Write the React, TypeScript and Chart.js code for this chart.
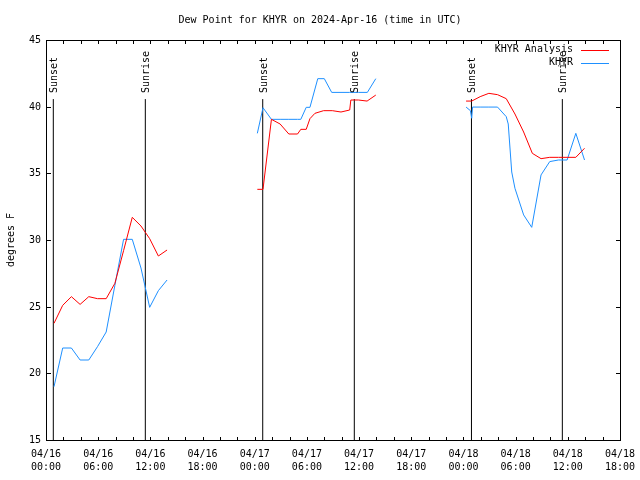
import { useEffect, useRef } from "react";
import { Chart, registerables } from "chart.js";

Chart.register(...registerables);

// ---- text ----
const titleText = "Dew Point for KHYR on 2024-Apr-16 (time in UTC)";
const yAxisTitle = "degrees F";
const seriesNames = ["KHYR Analysis", "KHYR"];
const seriesColors = ["#ff0000", "#1e90ff"];
const FONT = "10px 'DejaVu Sans Mono', 'Liberation Mono', monospace";

// ---- data (hours since 2024-04-16 00:00 UTC, dew point in degrees F) ----
const analysisHours1 = [0.92, 1.92, 2.92, 3.92, 4.92, 5.92, 6.92, 7.92, 8.92, 9.92, 10.92, 11.92, 12.92, 13.92];
const analysisDew1 = [23.75, 25.1, 25.75, 25.17, 25.75, 25.6, 25.6, 26.75, 29.2, 31.7, 31.05, 30.1, 28.8, 29.25];
const analysisHours2 = [24.3, 24.95, 25.92, 26.92, 27.92, 28.92, 29.3, 29.92, 30.35, 30.92, 31.92, 32.92, 33.92, 34.92, 35.05, 35.92, 36.92, 37.92];
const analysisDew2 = [33.8, 33.8, 39.05, 38.7, 37.95, 37.95, 38.3, 38.3, 39.1, 39.5, 39.7, 39.7, 39.6, 39.75, 40.5, 40.5, 40.42, 40.87];
const analysisHours3 = [48.3, 48.95, 49.92, 50.92, 51.92, 52.92, 53.92, 54.92, 55.92, 56.92, 57.92, 58.92, 59.92, 60.92, 61.92];
const analysisDew3 = [40.42, 40.42, 40.75, 41.0, 40.9, 40.6, 39.45, 38.1, 36.5, 36.1, 36.2, 36.2, 36.2, 36.2, 36.88];

const observedHours1 = [0.92, 1.92, 2.92, 3.92, 4.92, 5.92, 6.92, 7.92, 8.92, 9.92, 10.92, 11.92, 12.92, 13.92];
const observedDew1 = [19.0, 21.9, 21.9, 21.0, 21.0, 22.0, 23.1, 26.6, 30.05, 30.05, 27.9, 24.95, 26.2, 27.0];
const observedHours2 = [24.3, 24.95, 25.92, 26.92, 27.92, 28.92, 29.3, 29.92, 30.35, 31.25, 32.0, 32.85, 33.92, 34.92, 35.92, 36.95, 37.92];
const observedDew2 = [38.0, 39.92, 39.05, 39.05, 39.05, 39.05, 39.05, 39.95, 39.95, 42.1, 42.1, 41.07, 41.07, 41.07, 41.07, 41.07, 42.1];
const observedHours3 = [48.3, 48.8, 48.95, 49.05, 49.92, 50.92, 51.92, 52.92, 53.15, 53.55, 53.92, 54.92, 55.85, 56.92, 57.92, 58.92, 59.92, 60.92, 61.92];
const observedDew3 = [39.97, 39.7, 39.13, 39.97, 39.97, 39.97, 39.97, 39.25, 38.7, 35.1, 33.88, 31.88, 30.95, 34.88, 35.88, 36.0, 36.0, 38.0, 36.0];

// gaps between the daily segments
const gapHours = [19, 43];

// ---- sun events ----
const sunsetHours = [0.84, 24.92, 48.92];
const sunriseHours = [11.42, 35.45, 59.37];
const sunLineTop = 40.57;

// ---- axes ----
const xMin = 0;
const xMax = 66;
const yMin = 15;
const yMax = 45;
const yTicks = [15, 20, 25, 30, 35, 40, 45];
const xTickHours = [0, 6, 12, 18, 24, 30, 36, 42, 48, 54, 60, 66];
const xTickDates = ["04/16", "04/16", "04/16", "04/16", "04/17", "04/17", "04/17", "04/17", "04/18", "04/18", "04/18", "04/18"];
const xTickTimes = ["00:00", "06:00", "12:00", "18:00", "00:00", "06:00", "12:00", "18:00", "00:00", "06:00", "12:00", "18:00"];
const xMinorStep = 2;

function joinSegments(hours: number[][], vals: number[][]) {
  const out: { x: number; y: number | null }[] = [];
  hours.forEach((hs, i) => {
    hs.forEach((h, j) => out.push({ x: h, y: vals[i][j] }));
    if (i < gapHours.length && i < hours.length - 1) out.push({ x: gapHours[i], y: null });
  });
  return out;
}

const decorPlugin = {
  id: "gnuplotDecor",
  beforeDraw(chart: any) {
    const ctx = chart.ctx;
    ctx.save();
    ctx.fillStyle = "#ffffff";
    ctx.fillRect(0, 0, chart.width, chart.height);
    ctx.restore();
  },
  afterDraw(chart: any) {
    const ctx = chart.ctx;
    const xs = chart.scales.x;
    const ys = chart.scales.y;
    const { left, right, top, bottom } = chart.chartArea;
    ctx.save();
    ctx.strokeStyle = "#000000";
    ctx.fillStyle = "#000000";
    ctx.lineWidth = 1;
    ctx.font = FONT;

    // border
    ctx.strokeRect(Math.round(left) + 0.5, Math.round(top) + 0.5, Math.round(right - left), Math.round(bottom - top));

    // y ticks + labels
    ctx.textAlign = "right";
    ctx.textBaseline = "middle";
    yTicks.forEach((v) => {
      const py = Math.round(ys.getPixelForValue(v)) + 0.5;
      ctx.beginPath();
      ctx.moveTo(left, py);
      ctx.lineTo(left + 5, py);
      ctx.moveTo(right + 1, py);
      ctx.lineTo(right - 4, py);
      ctx.stroke();
      ctx.fillText(String(v), left - 5, py);
    });

    // x ticks
    for (let h = xMin; h <= xMax; h += xMinorStep) {
      const px = Math.round(xs.getPixelForValue(h)) + 0.5;
      ctx.beginPath();
      ctx.moveTo(px, bottom + 1);
      ctx.lineTo(px, bottom - 3);
      ctx.moveTo(px, top);
      ctx.lineTo(px, top + 4);
      ctx.stroke();
    }
    // x labels
    ctx.textAlign = "center";
    xTickHours.forEach((h, i) => {
      const px = xs.getPixelForValue(h);
      ctx.fillText(xTickDates[i], px, bottom + 14);
      ctx.fillText(xTickTimes[i], px, bottom + 27);
    });

    // y axis title
    ctx.save();
    ctx.translate(11, (top + bottom) / 2);
    ctx.rotate(-Math.PI / 2);
    ctx.textAlign = "center";
    ctx.fillText(yAxisTitle, 0, 0);
    ctx.restore();

    // title
    ctx.textAlign = "center";
    ctx.fillText(titleText, chart.width / 2, 20);

    // sun labels
    const labelStart = ys.getPixelForValue(sunLineTop) - 6;
    const drawLabel = (h: number, txt: string) => {
      ctx.save();
      ctx.translate(Math.round(xs.getPixelForValue(h)) + 1, labelStart);
      ctx.rotate(-Math.PI / 2);
      ctx.textAlign = "left";
      ctx.textBaseline = "middle";
      ctx.fillText(txt, 0, 0);
      ctx.restore();
    };
    sunsetHours.forEach((h) => drawLabel(h, "Sunset"));
    sunriseHours.forEach((h) => drawLabel(h, "Sunrise"));

    // legend
    ctx.textAlign = "right";
    ctx.textBaseline = "middle";
    seriesNames.forEach((name, i) => {
      const ly = top + 9.5 + i * 13;
      ctx.fillStyle = "#000000";
      ctx.fillText(name, right - 47, ly);
      ctx.strokeStyle = seriesColors[i];
      ctx.beginPath();
      ctx.moveTo(right - 39, Math.round(ly) + 0.5);
      ctx.lineTo(right - 11, Math.round(ly) + 0.5);
      ctx.stroke();
    });
    ctx.restore();
  },
};

export default function App() {
  const canvasRef = useRef<HTMLCanvasElement | null>(null);

  useEffect(() => {
    document.body.style.margin = "0";
    const canvas = canvasRef.current;
    if (!canvas) return;

    const sunDatasets = [...sunsetHours, ...sunriseHours].map((h) => ({
      label: "sun",
      data: [
        { x: h, y: yMin },
        { x: h, y: sunLineTop },
      ],
      borderColor: "#000000",
      borderWidth: 1,
      pointRadius: 0,
      order: 1,
    }));

    const chart = new Chart(canvas, {
      type: "line",
      data: {
        datasets: [
          {
            label: seriesNames[0],
            data: joinSegments([analysisHours1, analysisHours2, analysisHours3], [analysisDew1, analysisDew2, analysisDew3]),
            borderColor: seriesColors[0],
            borderWidth: 1,
            pointRadius: 0,
            spanGaps: false,
            tension: 0,
            order: 0,
          },
          {
            label: seriesNames[1],
            data: joinSegments([observedHours1, observedHours2, observedHours3], [observedDew1, observedDew2, observedDew3]),
            borderColor: seriesColors[1],
            borderWidth: 1,
            pointRadius: 0,
            spanGaps: false,
            tension: 0,
            order: 0,
          },
          ...sunDatasets,
        ] as any,
      },
      options: {
        responsive: false,
        animation: false,
        devicePixelRatio: 1,
        layout: { padding: { left: 46, right: 20, top: 40, bottom: 40 } },
        scales: {
          x: { type: "linear", min: xMin, max: xMax, display: false },
          y: { type: "linear", min: yMin, max: yMax, display: false },
        },
        plugins: {
          legend: { display: false },
          title: { display: false },
          tooltip: { enabled: false },
        },
      },
      plugins: [decorPlugin],
    });
    return () => chart.destroy();
  }, []);

  return (
    <div style={{ position: "absolute", left: 0, top: 0, width: 640, height: 480 }}>
      <canvas ref={canvasRef} width={640} height={480} style={{ display: "block" }} />
    </div>
  );
}
